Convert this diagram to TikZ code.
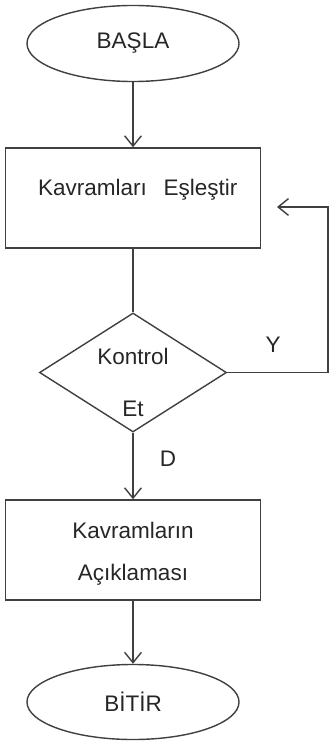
\documentclass[tikz,border=0pt]{standalone}
\usepackage{fontspec}
\setmainfont{Liberation Sans}
\usetikzlibrary{positioning,arrows.meta,shapes.geometric}

\begin{document}
\begin{tikzpicture}[x=0.025cm,y=-0.025cm,>={Straight Barb[length=2.6mm,width=4.2mm]},
  every node/.style={text=black!85,font=\fontsize{16}{18}\selectfont},
  line/.style={draw=black!75,line width=1pt},
  terminal/.style={ellipse,line,minimum width=5.3cm,minimum height=1.9cm,inner sep=0pt},
  process/.style={rectangle,line,minimum width=6.375cm,minimum height=2.5cm},
  decision/.style={diamond,line,minimum width=4.675cm,minimum height=2.975cm,inner sep=0pt}]
\useasboundingbox (0,0) rectangle (329,742);
\node[terminal] (basla) at (133,43.5) {BAŞLA};
\node[process,label={[yshift=0.2cm,xshift=0.12cm]center:Kavramları\hspace{0.75em}Eşleştir}] (eslestir) at (133,198) {};
\node[decision,label={[align=center,yshift=-0.26cm]center:{Kontrol\\[19pt]Et}}] (kontrol) at (133,372.5) {};
\node[process,label={[align=center,yshift=-0.09cm]center:{Kavramların\\[12pt]Açıklaması}}] (aciklama) at (133,550) {};
\node[terminal,minimum height=1.875cm] (bitir) at (133,702) {BİTİR};
% geri donus
\coordinate (sag) at (328,372.5);
\coordinate (donus) at (277,207);
\node (yanlis) at (273,345) {Y};
\node (dogru) at (168,459) {D};
\draw[->,line] (basla) -- (eslestir);
\draw[line] (eslestir) -- (kontrol);
\draw[->,line] (kontrol) -- (aciklama);
\draw[->,line] (aciklama) -- (bitir);
\draw[->,line] (kontrol.east) -- (sag) |- (donus);
\end{tikzpicture}
\end{document}
